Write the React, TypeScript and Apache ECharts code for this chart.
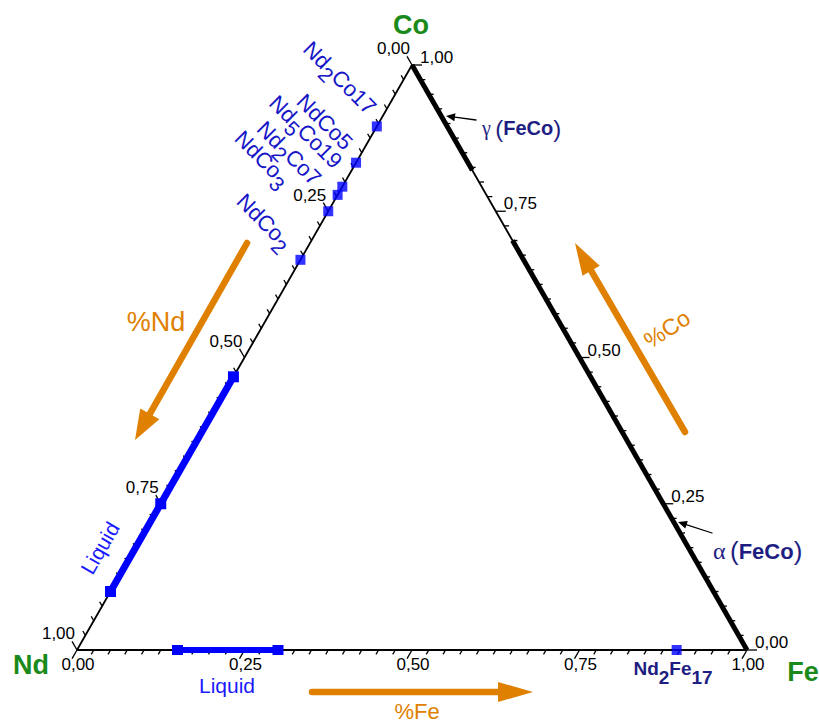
import React, { useEffect, useRef } from 'react';
import * as echarts from 'echarts';

// ---------------- data ----------------
const TICK_VALUES = [0, 0.25, 0.5, 0.75, 1];
const TICK_LABELS = ['0,00', '0,25', '0,50', '0,75', '1,00'];
const MINOR_DIVISIONS = 40; // one tick every 0.025

// compounds on the Nd–Co side (fraction of Nd)
const COMPOUND_LABELS = [
  '{n|Nd}{s|2}{n|Co17}',
  '{n|NdCo5}',
  '{n|Nd}{s|5}{n|Co19}',
  '{n|Nd}{s|2}{n|Co7}',
  '{n|NdCo}{s|3}',
  '{n|NdCo}{s|2}',
];
const COMPOUND_ND = [0.105, 0.167, 0.208, 0.222, 0.25, 0.333];
// liquid ranges
const LIQUID_NDCO_ND = [0.533, 0.75, 0.9]; // fraction of Nd on Nd–Co side
const LIQUID_NDFE_FE = [0.15, 0.3]; // fraction of Fe on Nd–Fe side
// Nd2Fe17 on the Nd–Fe side (fraction of Fe)
const ND2FE17_FE = [0.895];
// solid solutions on the Fe–Co side (fraction of Co)
const ALPHA_CO = [0, 0.7];
const GAMMA_CO = [0.82, 1];

// ---------------- styling ----------------
const SANS = "'Liberation Sans', Arial, sans-serif";
const SERIF = "'Liberation Serif', 'Times New Roman', serif";
const GREEN = '#1a8a1a';
const BLUE = '#0000ff';
const TXT_BLUE = '#1616c8';
const NAVY = '#1e1e82';
const ORANGE = '#e08000';

// ternary (Fe, Co) -> cartesian data coordinates
const fromTernary = (fe: number, co: number) => [fe + co / 2, co];
const onNdCo = (nd: number) => fromTernary(0, 1 - nd);
const onNdFe = (fe: number) => fromTernary(fe, 0);
const onFeCo = (co: number) => fromTernary(1 - co, co);

const AXES = ['bottom', 'left', 'right'];

function renderAxis(params: any, api: any) {
  const axis = AXES[params.dataIndex];
  const pNd = api.coord([0, 0]);
  const pFe = api.coord([1, 0]);
  const pCo = api.coord([0.5, 1]);
  const unit = (a: number[], b: number[]) => {
    const dx = b[0] - a[0];
    const dy = b[1] - a[1];
    const l = Math.hypot(dx, dy);
    return [dx / l, dy / l];
  };
  let pt: (v: number) => number[];
  let dir: number[];
  if (axis === 'bottom') {
    pt = (v) => api.coord(onNdFe(v));
    dir = unit(pCo, pNd);
  } else if (axis === 'left') {
    pt = (v) => api.coord(onNdCo(v));
    dir = unit(pFe, pCo);
  } else {
    pt = (v) => api.coord(onFeCo(v));
    dir = unit(pNd, pFe);
  }
  const children: any[] = [];
  for (let i = 0; i <= MINOR_DIVISIONS; i++) {
    const v = i / MINOR_DIVISIONS;
    const len = i % 10 === 0 ? 10 : 5;
    const p = pt(v);
    children.push({
      type: 'line',
      shape: { x1: p[0], y1: p[1], x2: p[0] + dir[0] * len, y2: p[1] + dir[1] * len },
      style: { stroke: '#000', lineWidth: 1.3 },
    });
  }
  TICK_VALUES.forEach((v, k) => {
    const p = pt(v);
    const e = [p[0] + dir[0] * 10, p[1] + dir[1] * 10];
    let x = 0, y = 0, align = 'left', va = 'top';
    if (axis === 'bottom') {
      x = p[0] + 1; y = e[1] - 3; align = 'center'; va = 'top';
    } else if (axis === 'left') {
      x = e[0] + 3; y = e[1] + 1; align = 'right'; va = 'bottom';
    } else {
      x = e[0] - 2; y = e[1] + 1; align = 'left'; va = 'bottom';
    }
    children.push({
      type: 'text',
      x, y,
      style: {
        text: TICK_LABELS[k], fill: '#000', fontSize: 17, fontFamily: SANS,
        align, textAlign: align, verticalAlign: va, textVerticalAlign: va,
      },
    });
  });
  return { type: 'group', children };
}

function txt(x: number, y: number, text: string, o: any = {}) {
  const align = o.align || 'center';
  const va = o.va || 'middle';
  return {
    type: 'text', x, y, rotation: o.rotation || 0, z: 50,
    style: {
      text, x: 0, y: 0, fill: o.fill || '#000',
      fontSize: o.size || 16, fontFamily: o.family || SANS, fontWeight: o.weight || 'normal',
      align, textAlign: align, verticalAlign: va, textVerticalAlign: va,
      rich: o.rich,
    },
  };
}

function arrow(x1: number, y1: number, x2: number, y2: number, headLen: number, half: number, width: number, color: string) {
  const dx = x2 - x1, dy = y2 - y1;
  const L = Math.hypot(dx, dy);
  const ux = dx / L, uy = dy / L;
  const bx = x2 - ux * headLen, by = y2 - uy * headLen;
  return [
    { type: 'line', z: 40, shape: { x1, y1, x2: bx + ux * 2, y2: by + uy * 2 }, style: { stroke: color, lineWidth: width, lineCap: 'round' } },
    { type: 'polygon', z: 40, shape: { points: [[x2, y2], [bx - uy * half, by + ux * half], [bx + uy * half, by - ux * half]] }, style: { fill: color } },
  ];
}

const compoundRich = {
  n: { fontSize: 22, fontFamily: SANS, fill: TXT_BLUE, verticalAlign: 'top' },
  s: { fontSize: 21, fontFamily: SANS, fill: TXT_BLUE, verticalAlign: 'top', padding: [8, 0, 0, 0] },
};
const COMPOUND_TEXT_POS = [
  [370, 113], [349, 146], [336, 167], [315, 184], [284, 185], [286, 248],
];

function buildGraphic() {
  const els: any[] = [];
  els.push(txt(411, 25, 'Co', { size: 27, weight: 'bold', fill: GREEN }));
  els.push(txt(31, 665, 'Nd', { size: 27, weight: 'bold', fill: GREEN }));
  els.push(txt(803, 672, 'Fe', { size: 27, weight: 'bold', fill: GREEN }));
  COMPOUND_LABELS.forEach((l, i) => {
    const p = COMPOUND_TEXT_POS[i];
    els.push(txt(p[0], p[1], l, { align: 'right', rotation: -Math.PI / 4, rich: compoundRich, fill: TXT_BLUE, size: 22 }));
  });
  els.push(txt(673, 673, '{n|Nd}{s|2}{n|Fe}{s|17}', {
    fill: NAVY,
    rich: {
      n: { fontSize: 19, fontWeight: 'bold', fontFamily: SANS, fill: NAVY, verticalAlign: 'top' },
      s: { fontSize: 19, fontWeight: 'bold', fontFamily: SANS, fill: NAVY, verticalAlign: 'top', padding: [9, 0, 0, 0] },
    },
  }));
  const feco = (gs: number, bs: number) => ({
    g: { fontSize: gs, fontFamily: SERIF, fill: NAVY },
    p: { fontSize: bs + 4, fontFamily: SANS, fill: NAVY },
    b: { fontSize: bs, fontFamily: SANS, fontWeight: 'bold', fill: NAVY },
  });
  els.push(txt(482, 128, '{g|γ} {p|(}{b|FeCo}{p|)}', { align: 'left', rich: feco(20, 20), fill: NAVY }));
  els.push(txt(713, 551, '{g|α} {p|(}{b|FeCo}{p|)}', { align: 'left', rich: feco(24, 22), fill: NAVY }));
  els.push(...arrow(476, 120, 446, 116, 9, 4, 1.3, '#000'));
  els.push(...arrow(712, 533, 678, 522, 9, 4, 1.3, '#000'));

  els.push(txt(100, 548, 'Liquid', { size: 21, fill: '#1a1aff', rotation: Math.PI / 3 }));
  els.push(txt(227, 685, 'Liquid', { size: 21, fill: '#1a1aff' }));

  els.push(...arrow(247, 243, 135, 440, 30, 11, 6.5, ORANGE));
  els.push(...arrow(685, 432, 575, 243, 32, 10, 6.5, ORANGE));
  els.push(...arrow(312, 692, 533, 692, 35, 10, 6.5, ORANGE));
  els.push(txt(156, 322, '%Nd', { size: 27, fill: ORANGE }));
  els.push(txt(417, 711, '%Fe', { size: 22, fill: ORANGE }));
  els.push(txt(667, 329, '%Co', { size: 23, fill: ORANGE, rotation: 0.58 }));
  return els;
}

export default function App() {
  const ref = useRef<HTMLDivElement>(null);
  useEffect(() => {
    if (!ref.current) return;
    const chart = echarts.init(ref.current, undefined, { renderer: 'svg' });
    const option: any = {
      animation: false,
      backgroundColor: '#ffffff',
      grid: { left: 77, top: 65, width: 670, height: 585 },
      xAxis: { type: 'value', min: 0, max: 1, show: false },
      yAxis: { type: 'value', min: 0, max: 1, show: false },
      series: [
        {
          type: 'line', silent: true, symbol: 'none', z: 2,
          data: [onNdFe(0), onNdFe(1), onFeCo(1), onNdCo(1)],
          lineStyle: { color: '#000', width: 1.8 },
        },
        {
          type: 'line', silent: true, symbol: 'none', z: 3,
          data: ALPHA_CO.map(onFeCo), lineStyle: { color: '#000', width: 5 },
        },
        {
          type: 'line', silent: true, symbol: 'none', z: 3,
          data: GAMMA_CO.map(onFeCo), lineStyle: { color: '#000', width: 5 },
        },
        {
          type: 'custom', silent: true, clip: false, z: 4,
          data: [[0, 0], [0, 0], [0, 0]],
          renderItem: renderAxis,
        },
        {
          type: 'line', silent: true, z: 5, symbol: 'rect', symbolSize: 11, showSymbol: true,
          data: LIQUID_NDCO_ND.map(onNdCo),
          lineStyle: { color: BLUE, width: 7 }, itemStyle: { color: BLUE },
        },
        {
          type: 'line', silent: true, z: 5, symbol: 'rect', symbolSize: [11, 10], showSymbol: true,
          data: LIQUID_NDFE_FE.map(onNdFe),
          lineStyle: { color: BLUE, width: 6 }, itemStyle: { color: BLUE },
        },
        {
          type: 'scatter', silent: true, z: 6, symbol: 'rect', symbolSize: 10,
          data: COMPOUND_ND.map(onNdCo), itemStyle: { color: BLUE },
        },
        {
          type: 'scatter', silent: true, z: 6, symbol: 'rect', symbolSize: 10,
          data: ND2FE17_FE.map(onNdFe), itemStyle: { color: BLUE },
        },
      ],
      graphic: buildGraphic(),
    };
    chart.setOption(option);
    return () => chart.dispose();
  }, []);
  return <div ref={ref} style={{ position: 'absolute', left: 0, top: 0, width: 819, height: 724 }} />;
}
